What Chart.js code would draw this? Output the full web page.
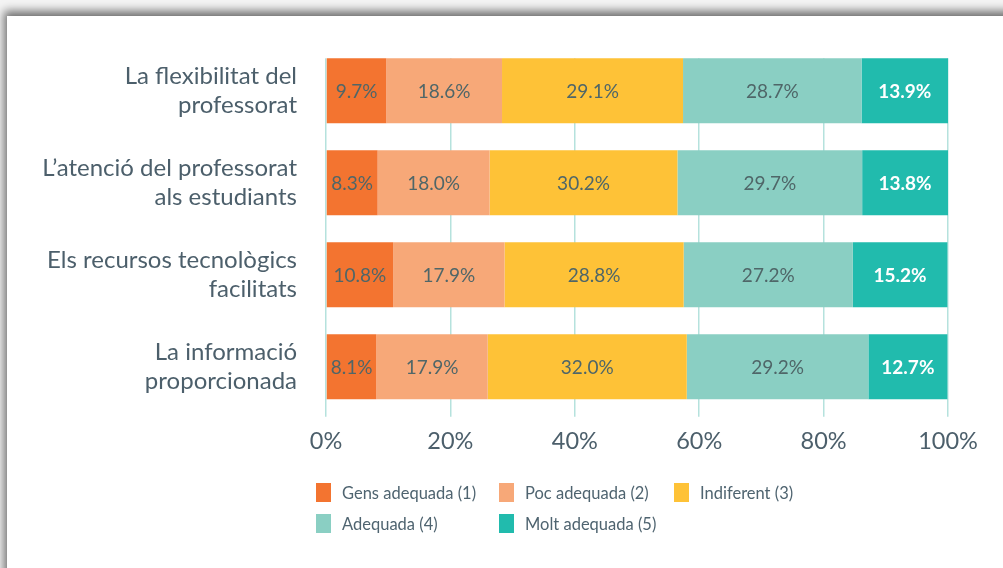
<!DOCTYPE html>
<html>
<head>
<meta charset="utf-8">
<script src="https://cdn.jsdelivr.net/npm/chart.js@4/dist/chart.umd.min.js"></script>
<style>
  html, body { margin: 0; padding: 0; background: #fff; overflow: hidden; }
  #wrap { position: relative; width: 1003px; height: 568px; background: #f4f4f4; overflow: hidden; }
  #panel { position: absolute; left: 7px; top: 16px; width: 1100px; height: 700px; background: #fff;
           box-shadow: -3px -5px 9px rgba(0,0,0,0.55); }
  #c { position: absolute; left: 0; top: -13px; }
  #legend { position: absolute; left: 0; top: 0; font-family: Lato, sans-serif; font-size: 16.5px; color: #4f6470; }
  .item { position: absolute; white-space: nowrap; line-height: 20px; }
  .box { position: absolute; left: 0; top: 0; width: 15px; height: 19px; }
  .txt { position: absolute; left: 26px; top: 0; }
</style>
</head>
<body>
<div id="wrap">
  <div id="panel"></div>
  <canvas id="c" width="1003" height="568"></canvas>
  <div id="legend"></div>
</div>
<script>
  // Dades
  const categories = [
    ['La flexibilitat del', 'professorat'],
    ["L’atenció del professorat", 'als estudiants'],
    ['Els recursos tecnològics', 'facilitats'],
    ['La informació', 'proporcionada']
  ];
  const seriesNames = ['Gens adequada (1)', 'Poc adequada (2)', 'Indiferent (3)', 'Adequada (4)', 'Molt adequada (5)'];
  const gens = [9.7, 8.3, 10.8, 8.1];
  const poc = [18.6, 18.0, 17.9, 17.9];
  const indiferent = [29.1, 30.2, 28.8, 32.0];
  const adequada = [28.7, 29.7, 27.2, 29.2];
  const molt = [13.9, 13.8, 15.2, 12.7];
  const tickLabels = ['0%', '20%', '40%', '60%', '80%', '100%'];

  const colors = ['#f37430', '#f7a878', '#fec237', '#8acfc3', '#21bbad'];
  const values = [gens, poc, indiferent, adequada, molt];

  // La graella comença a la primera barra
  const trimGrid = {
    id: 'trimGrid',
    beforeDatasetsDraw(chart) {
      const a = chart.chartArea;
      const first = chart.getDatasetMeta(0).data[0];
      const top = first.y - first.height / 2;
      const ctx = chart.ctx;
      ctx.save();
      ctx.fillStyle = '#ffffff';
      ctx.fillRect(a.left - 3, a.top - 2, a.right - a.left + 6, top - a.top + 2);
      ctx.restore();
    }
  };

  // Etiquetes dins de les barres
  const barLabels = {
    id: 'barLabels',
    afterDatasetsDraw(chart) {
      const ctx = chart.ctx;
      ctx.save();
      ctx.textAlign = 'center';
      ctx.textBaseline = 'middle';
      chart.data.datasets.forEach((ds, i) => {
        const meta = chart.getDatasetMeta(i);
        const last = i === chart.data.datasets.length - 1;
        ctx.fillStyle = last ? '#ffffff' : '#4f6668';
        ctx.font = (last ? 'bold ' : '') + '19px Lato, sans-serif';
        meta.data.forEach((bar, j) => {
          const x = (bar.x + bar.base) / 2;
          ctx.fillText(ds.data[j].toFixed(1) + '%', x, bar.y + 1);
        });
      });
      ctx.restore();
    }
  };

  const ctx = document.getElementById('c').getContext('2d');
  const chart = new Chart(ctx, {
    type: 'bar',
    data: {
      labels: categories,
      datasets: seriesNames.map((name, i) => ({
        label: name,
        data: values[i],
        backgroundColor: colors[i],
        borderWidth: 0,
        categoryPercentage: 1,
        barPercentage: 0.707
      }))
    },
    options: {
      indexAxis: 'y',
      responsive: false,
      animation: false,
      layout: { padding: { top: 18, right: 55, bottom: 88, left: 0 } },
      plugins: {
        legend: { display: false },
        tooltip: { enabled: false }
      },
      scales: {
        x: {
          stacked: true,
          min: 0,
          max: 100,
          border: { display: false },
          grid: { color: '#b5e2dd', lineWidth: 1.5, tickLength: 4 },
          ticks: {
            stepSize: 20,
            padding: 11,
            color: '#4c5f6b',
            font: { family: 'Lato, sans-serif', size: 23.5 },
            callback: (v, i) => tickLabels[i]
          }
        },
        y: {
          stacked: true,
          border: { display: false },
          grid: { display: false, drawTicks: false },
          afterFit(scale) { scale.width = 326; },
          ticks: {
            padding: 29,
            color: '#4c5f6b',
            font: { family: 'Lato, sans-serif', size: 24, lineHeight: 1.2 }
          }
        }
      }
    },
    plugins: [trimGrid, barLabels]
  });

  // Llegenda
  const legendPos = [[316, 483], [499, 483], [674, 483], [316, 514], [499, 514]];
  const legend = document.getElementById('legend');
  seriesNames.forEach((name, i) => {
    const it = document.createElement('div');
    it.className = 'item';
    it.style.left = legendPos[i][0] + 'px';
    it.style.top = legendPos[i][1] + 'px';
    it.innerHTML = '<span class="box" style="background:' + colors[i] + '"></span><span class="txt">' + name + '</span>';
    legend.appendChild(it);
  });
</script>
</body>
</html>
